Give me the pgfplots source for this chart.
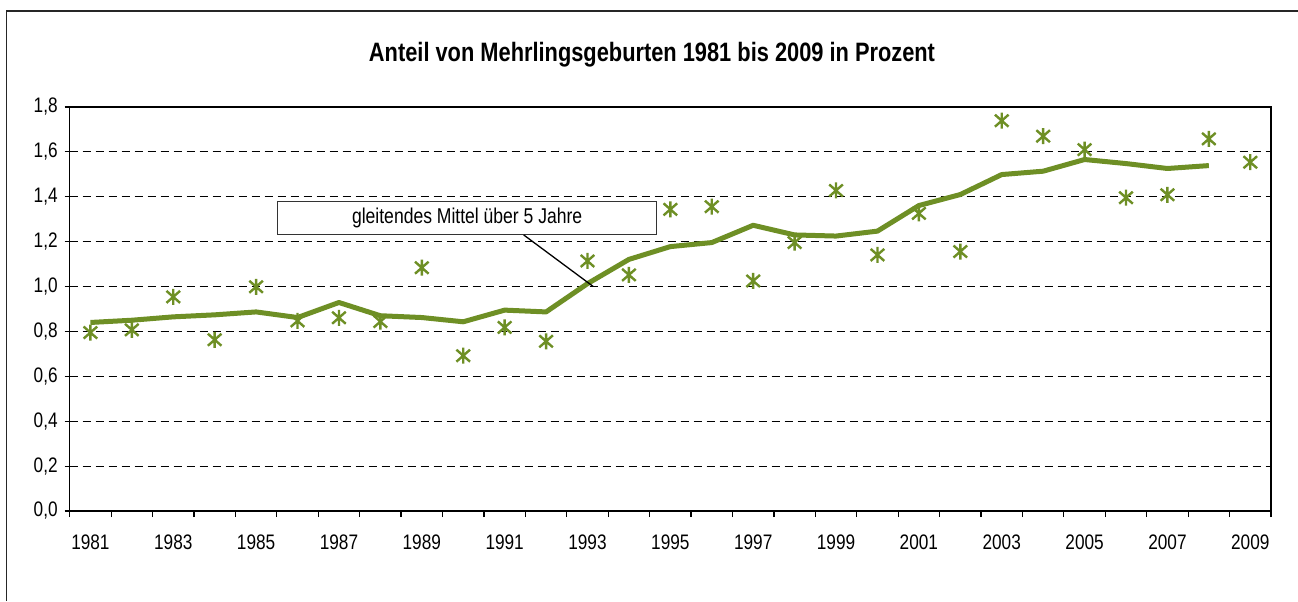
\documentclass[border=0pt]{standalone}
\usepackage{pgfplots}
\pgfplotsset{compat=1.18}
\usepackage{fontspec}
\setmainfont{Liberation Sans}[FakeStretch=0.82]
\definecolor{olive}{RGB}{110,143,37}
\pgfdeclareplotmark{xstar}{%
  \pgfpathmoveto{\pgfqpoint{0pt}{\pgfplotmarksize}}%
  \pgfpathlineto{\pgfqpoint{0pt}{-\pgfplotmarksize}}%
  \pgfpathmoveto{\pgfqpoint{-0.85\pgfplotmarksize}{-0.75\pgfplotmarksize}}%
  \pgfpathlineto{\pgfqpoint{0.85\pgfplotmarksize}{0.75\pgfplotmarksize}}%
  \pgfpathmoveto{\pgfqpoint{-0.85\pgfplotmarksize}{0.75\pgfplotmarksize}}%
  \pgfpathlineto{\pgfqpoint{0.85\pgfplotmarksize}{-0.75\pgfplotmarksize}}%
  \pgfusepathqstroke}
\pgfplotstableread{
x y
0 0.795
1 0.807
2 0.954
3 0.763
4 0.999
5 0.847
6 0.861
7 0.844
8 1.084
9 0.692
10 0.818
11 0.756
12 1.114
13 1.052
14 1.344
15 1.356
16 1.025
17 1.196
18 1.428
19 1.141
20 1.326
21 1.156
22 1.739
23 1.670
24 1.610
25 1.396
26 1.409
27 1.658
28 1.554
}\pointdata
\pgfplotstableread{
x y
0 0.840
1 0.850
2 0.865
3 0.874
4 0.887
5 0.862
6 0.929
7 0.870
8 0.862
9 0.843
10 0.895
11 0.887
12 1.013
13 1.121
14 1.178
15 1.196
16 1.273
17 1.230
18 1.225
19 1.247
20 1.361
21 1.410
22 1.499
23 1.514
24 1.566
25 1.548
26 1.526
27 1.539
}\avgdata
\begin{document}
\begin{tikzpicture}
\path[use as bounding box] (0,0) rectangle (649pt,300.5pt);
\draw[line width=0.75pt, black!85] (3.25pt,0) -- (3.25pt,295pt) -- (649pt,295pt);
\node[font=\fontsize{13.3}{15}\selectfont\bfseries] at (326pt,273pt) {Anteil von Mehrlingsgeburten 1981 bis 2009 in Prozent};
\begin{axis}[
  at={(34.85pt,45pt)}, anchor=south west,
  scale only axis, width=600.65pt, height=202pt,
  xmin=-0.5, xmax=28.5, ymin=0, ymax=1.8,
  axis line style={black, line width=0.7pt},
  xtick={0,2,...,28},
  xticklabels={1981,1983,1985,1987,1989,1991,1993,1995,1997,1999,2001,2003,2005,2007,2009},
  minor xtick={-0.5,0.5,...,28.5},
  major x tick style={draw=none},
  minor x tick style={black, line width=0.6pt},
  minor tick length=3pt,
  major tick length=2.5pt,
  tick align=outside,
  xtick pos=bottom, ytick pos=left,
  ytick={0,0.2,...,1.8},
  y tick style={black, line width=0.6pt},
  yticklabel style={/pgf/number format/.cd, fixed, fixed zerofill, precision=1, use comma, assume math mode=true},
  ticklabel style={font=\fontsize{10.5}{12}\selectfont},
  x tick label style={yshift=-6pt},
  ymajorgrids,
  grid style={black, dash pattern=on 4pt off 2.5pt, line width=0.5pt},
  clip=false,
]
\addplot[olive, line width=2.5pt, line join=round] table[x=x,y=y] {\avgdata};
\addplot[only marks, mark=xstar, mark size=4pt, mark options={olive, line width=1.2pt}] table[x=x,y=y] {\pointdata};
\draw[black!80, line width=0.5pt, fill=white] (axis cs:4.52,1.23) rectangle (axis cs:13.67,1.381);
\node[font=\fontsize{10.7}{12}\selectfont] at (axis cs:9.095,1.3055) {gleitendes Mittel über 5 Jahre};
\draw[black, line width=0.65pt] (axis cs:10.46,1.23) -- (axis cs:12.14,1.0);
\end{axis}
\end{tikzpicture}
\end{document}
